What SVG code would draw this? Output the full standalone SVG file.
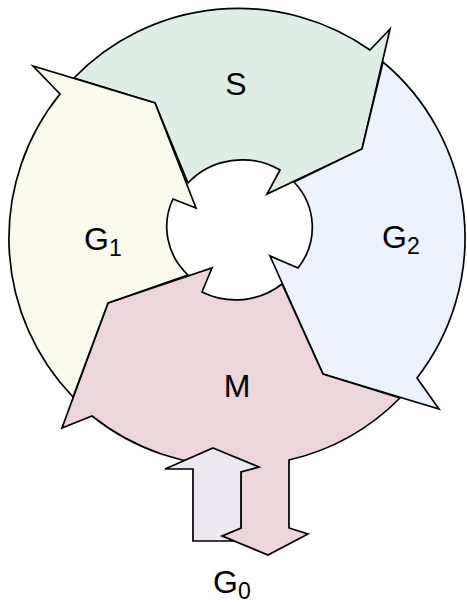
<svg xmlns="http://www.w3.org/2000/svg" width="467" height="604" viewBox="0 0 467 604">
<style>
.seg{stroke:#000;stroke-width:1.7;stroke-linejoin:miter}
.lbl{font-family:"Liberation Sans",Arial,sans-serif;font-size:32px;fill:#000}
.sub{font-size:23px}
</style>
<rect width="467" height="604" fill="#fff"/>
<g id="S">
<path class="seg" fill="#E0EDE6" d="M 74,78 L 155,103 L 188,183 A 72 68 0 0 1 280,170 L 267,194 L 362,149 L 390,29 L 370,50 A 229 229 0 0 0 74,78 Z"/>
<text class="lbl" x="236" y="95" text-anchor="middle">S</text>
</g>
<g id="G2">
<path class="seg" fill="#EDF1F9" d="M 383,62 L 362,149 L 294,182 A 72 68 0 0 1 298,268 L 270,256 L 323,374 L 439,409 L 417,378 A 229 229 0 0 0 383,62 Z"/>
<text class="lbl" x="382" y="248">G<tspan class="sub" dy="6">2</tspan></text>
</g>
<g id="M">
<path class="seg" fill="#EDD5DC" d="M 400,398 L 323,374 L 282,284 A 72 68 0 0 1 202,292 L 212,268 L 108,303 L 62,428 L 92,416 A 229 229 0 0 0 241,466 L 241,528 L 222,536 L 268,555 L 308,534 L 289,528 L 289,460 A 229 229 0 0 0 400,398 Z"/>
<text class="lbl" x="237" y="397" text-anchor="middle">M</text>
</g>
<g id="G1">
<path class="seg" fill="#F9F9ED" d="M 73,397 L 108,303 L 188,275 A 72 68 0 0 1 173,199 L 196,208 L 155,103 L 33,66 L 60,94 A 229 229 0 0 0 73,397 Z"/>
<text class="lbl" x="84" y="250">G<tspan class="sub" dy="6">1</tspan></text>
</g>
<g id="G0">
<path class="seg" fill="#EEE8F1" d="M 213,448 L 259,467 L 241,472 L 241,528 L 222,536 L 234,541 L 193,541 L 193,469 L 165,469 Z"/>
<text class="lbl" x="213" y="593">G<tspan class="sub" dy="6">0</tspan></text>
</g>
<g id="connectors"></g>
</svg>
